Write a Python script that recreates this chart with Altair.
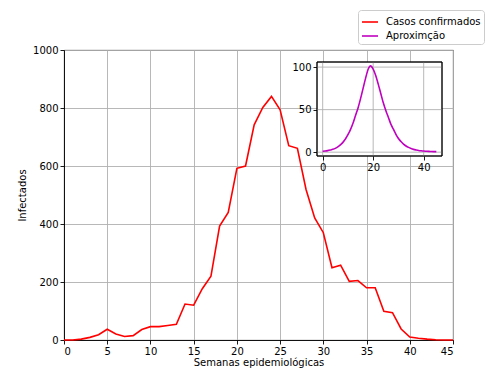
import altair as alt
import pandas as pd

semanas = list(range(46))
casos = [0, 0, 3, 9, 18, 37, 21, 12, 15, 36,
         46, 46, 50, 54, 124, 120, 177, 220, 393, 440,
         592, 600, 742, 802, 840, 794, 670, 661, 519, 421,
         370, 249, 258, 202, 205, 180, 180, 99, 94, 38,
         10, 6, 3, 1, 0, 0]
aprox = [1.0, 1.3, 1.8, 2.5, 3.3, 4.5, 6.2, 8.5, 11.5, 15.5,
         20.5, 26.5, 34, 43, 52, 63, 75, 87, 97.5, 101.5,
         97.5, 90, 80, 69, 58, 49, 41, 33, 27, 21,
         16, 12.5, 9.5, 7.3, 5.6, 4.3, 3.3, 2.6, 2.0, 1.6,
         1.3, 1.1, 0.9, 0.8, 0.7, 0.6]

serie_casos = "Casos confirmados"
serie_aprox = "Aproximção"

main_x_ticks = [0, 5, 10, 15, 20, 25, 30, 35, 40, 45]
main_y_ticks = [0, 200, 400, 600, 800, 1000]
inset_x_ticks = [0, 20, 40]
inset_y_ticks = [0, 50, 100]
inset_x_domain = [-2.25, 47.25]
inset_y_domain = [-4.5, 106]

FONT = "DejaVu Sans"
GRID = "#b0b0b0"

df_c = pd.DataFrame({"semana": semanas, "valor": casos, "serie": serie_casos})
df_a = pd.DataFrame({"semana": semanas, "valor": aprox, "serie": serie_aprox})
df_frame = pd.DataFrame({"x0": [inset_x_domain[0]], "x1": [inset_x_domain[1]],
                         "y0": [inset_y_domain[0]], "y1": [inset_y_domain[1]]})
df_vg = pd.DataFrame({"xg": inset_x_ticks, "y0": inset_y_domain[0], "y1": inset_y_domain[1]})
df_hg = pd.DataFrame({"yg": inset_y_ticks, "x0": inset_x_domain[0], "x1": inset_x_domain[1]})

color = alt.Color(
    "serie:N",
    scale=alt.Scale(domain=[serie_casos, serie_aprox], range=["#ff0000", "#bf00bf"]),
    legend=alt.Legend(
        title=None, orient="none", legendX=294, legendY=-40,
        symbolType="stroke", symbolSize=256, symbolStrokeWidth=1.6,
        labelFontSize=10, labelFont=FONT, labelColor="black", labelOffset=7,
        padding=3, strokeColor="#cccccc", fillColor="white", cornerRadius=3,
        rowPadding=-4,
    ),
)

main = alt.Chart(df_c).mark_line(strokeWidth=1.6).encode(
    x=alt.X("semana:Q",
            scale=alt.Scale(domain=[0, 45], nice=False, zero=False),
            axis=alt.Axis(values=main_x_ticks, title="Semanas epidemiológicas", grid=True,
                          titlePadding=1, format="d")),
    y=alt.Y("valor:Q",
            scale=alt.Scale(domain=[0, 1000], nice=False),
            axis=alt.Axis(values=main_y_ticks, title="Infectados", grid=True,
                          titlePadding=5, format="d")),
    color=color,
)

ix_scale = alt.Scale(domain=inset_x_domain, range=[253, 378], nice=False, zero=False)
iy_scale = alt.Scale(domain=inset_y_domain, range=[106, 12], nice=False, zero=False)
ix_axis = alt.Axis(values=inset_x_ticks, title=None, orient="bottom", offset=-184,
                   grid=False, domain=False, format="d")
iy_axis = alt.Axis(values=inset_y_ticks, title=None, orient="left", offset=-253,
                   grid=False, domain=False, format="d")

frame = alt.Chart(df_frame).mark_rect(fill="white", stroke="black", strokeWidth=0.9).encode(
    x=alt.X("x0:Q", scale=ix_scale, axis=ix_axis),
    x2="x1:Q",
    y=alt.Y("y0:Q", scale=iy_scale, axis=iy_axis),
    y2="y1:Q",
)
vgrid = alt.Chart(df_vg).mark_rule(color=GRID, strokeWidth=0.9).encode(
    x=alt.X("xg:Q", scale=ix_scale, axis=ix_axis),
    y=alt.Y("y0:Q", scale=iy_scale, axis=iy_axis),
    y2="y1:Q",
)
hgrid = alt.Chart(df_hg).mark_rule(color=GRID, strokeWidth=0.9).encode(
    y=alt.Y("yg:Q", scale=iy_scale, axis=iy_axis),
    x=alt.X("x0:Q", scale=ix_scale, axis=ix_axis),
    x2="x1:Q",
)
frame_top = alt.Chart(df_frame).mark_rect(fill=None, stroke="black", strokeWidth=0.9).encode(
    x=alt.X("x0:Q", scale=ix_scale, axis=ix_axis),
    x2="x1:Q",
    y=alt.Y("y0:Q", scale=iy_scale, axis=iy_axis),
    y2="y1:Q",
)
mline = alt.Chart(df_a).mark_line(strokeWidth=1.6, interpolate="monotone").encode(
    x=alt.X("semana:Q", scale=ix_scale, axis=ix_axis),
    y=alt.Y("valor:Q", scale=iy_scale, axis=iy_axis),
    color=color,
)

inset = alt.layer(frame, vgrid, hgrid, mline, frame_top)

chart = alt.layer(main, inset).resolve_scale(x="independent", y="independent").properties(
    width=389, height=290,
    padding={"left": 56, "top": 42, "right": 39, "bottom": 28},
    autosize="none",
).configure_view(
    stroke="black", strokeWidth=0.9,
).configure_axis(
    labelFont=FONT, titleFont=FONT, labelFontSize=10, titleFontSize=10,
    titleFontWeight="normal", labelColor="black", titleColor="black",
    tickColor="black", domainColor="black", tickSize=4, tickWidth=0.9,
    domainWidth=0.9, gridColor=GRID, gridWidth=0.9, labelPadding=2,
)

chart.save("out.html", embed_options={"renderer": "svg", "actions": False})
